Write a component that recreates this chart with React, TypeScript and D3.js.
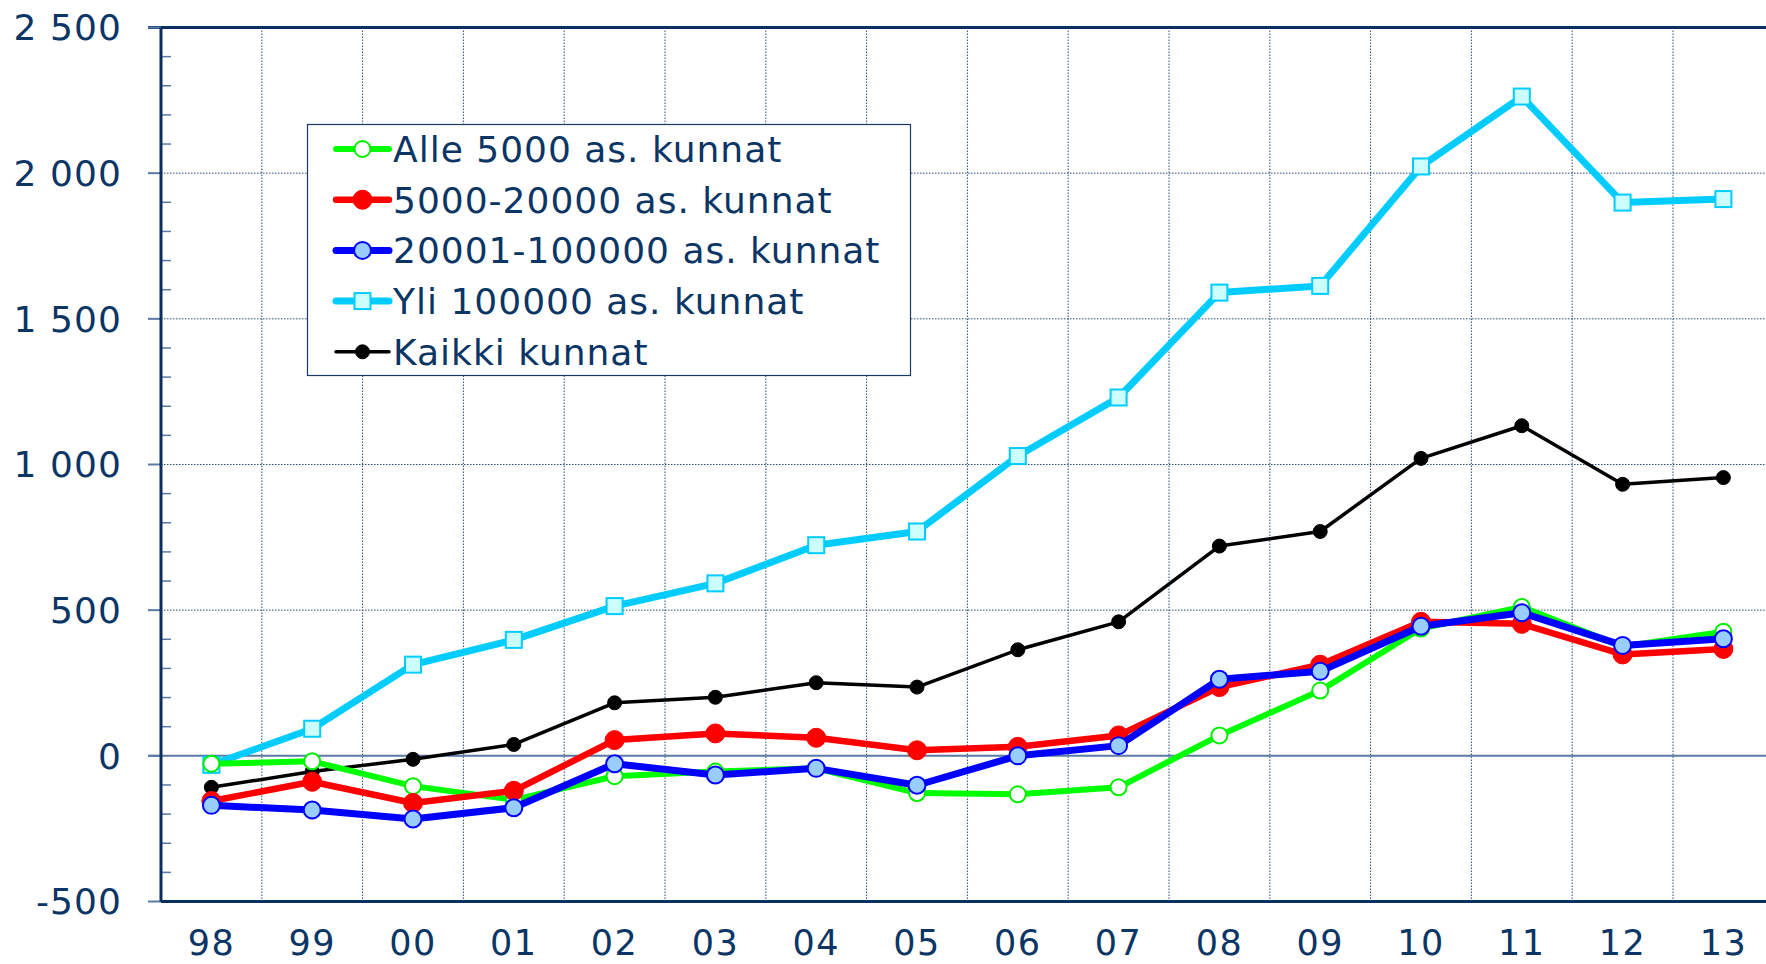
import React from "react";
import * as d3 from "d3";

const years = ["98", "99", "00", "01", "02", "03", "04", "05", "06", "07", "08", "09", "10", "11", "12", "13"];
const alle5000 = [-27, -19, -104, -151, -70, -54, -43, -128, -132, -108, 70, 224, 437, 511, 375, 426];
const s5000_20000 = [-155, -89, -162, -120, 54, 77, 62, 19, 31, 70, 236, 313, 460, 453, 348, 367];
const s20001_100000 = [-170, -186, -217, -178, -27, -66, -43, -101, 0, 35, 263, 290, 445, 491, 379, 402];
const yli100000 = [-31, 93, 313, 398, 514, 592, 723, 770, 1029, 1230, 1590, 1613, 2023, 2263, 1899, 1911];
const kaikki = [-108, -54, -12, 39, 182, 201, 251, 236, 364, 460, 720, 770, 1021, 1133, 932, 955];
const yTicks = [-500, 0, 500, 1000, 1500, 2000, 2500];
const yTickLabels = ["-500", "0", "500", "1 000", "1 500", "2 000", "2 500"];

type Series = {
  name: string;
  values: number[];
  color: string;
  width: number;
  marker: "circle" | "square";
  r: number;
  fill: string;
  stroke: string;
  strokeW: number;
};

const series: Series[] = [
  { name: "Alle 5000 as. kunnat", values: alle5000, color: "#00ff00", width: 6, marker: "circle", r: 8, fill: "#ffffff", stroke: "#00ee00", strokeW: 2 },
  { name: "5000-20000 as. kunnat", values: s5000_20000, color: "#ff0000", width: 6.5, marker: "circle", r: 9.5, fill: "#ff0000", stroke: "#ff0000", strokeW: 1 },
  { name: "20001-100000 as. kunnat", values: s20001_100000, color: "#0000ff", width: 7, marker: "circle", r: 8.5, fill: "#99ccff", stroke: "#0000ff", strokeW: 2 },
  { name: "Yli 100000 as. kunnat", values: yli100000, color: "#00ccff", width: 7, marker: "square", r: 8, fill: "#ccffff", stroke: "#00ccff", strokeW: 2 },
  { name: "Kaikki kunnat", values: kaikki, color: "#000000", width: 3.5, marker: "circle", r: 7, fill: "#000000", stroke: "#000000", strokeW: 1 },
];

const drawOrder = [3, 4, 0, 1, 2];

const W = 1766;
const H = 964;
const left = 161;
const top = 27.5;
const bottom = 901.5;
const band = 100.8;
const right = left + band * years.length;
const textColor = "#0a3564";
const axisColor = "#0a3060";
const font = "'DejaVu Sans', Verdana, sans-serif";

function Marker({ s, x, y }: { s: Series; x: number; y: number }) {
  if (s.marker === "square") {
    return <rect x={x - s.r} y={y - s.r} width={s.r * 2} height={s.r * 2} fill={s.fill} stroke={s.stroke} strokeWidth={s.strokeW} />;
  }
  return <circle cx={x} cy={y} r={s.r} fill={s.fill} stroke={s.stroke} strokeWidth={s.strokeW} />;
}

export default function App() {
  const x = d3.scaleBand<string>().domain(years).range([left, right]).padding(0);
  const y = d3.scaleLinear().domain([-500, 2500]).range([bottom, top]);
  const cx = (d: string) => (x(d) as number) + x.bandwidth() / 2;
  const minorTicks = d3.range(-500, 2501, 100).filter((v) => v % 500 !== 0);

  const legendX = 307.5;
  const legendY = 124.5;
  const legendW = 603;
  const legendH = 251;
  const rowH = 50.7;

  return (
    <svg width={W} height={H} style={{ position: "absolute", left: 0, top: 0, background: "#fff" }} fontFamily={font}>
      <rect x={0} y={0} width={W} height={H} fill="#ffffff" />
      {/* horizontal grid */}
      {yTicks.filter((v) => v !== 0 && v !== -500 && v !== 2500).map((v) => (
        <line key={"hg" + v} x1={left} x2={W} y1={y(v)} y2={y(v)} stroke="#2a4a78" strokeWidth={1} strokeDasharray="1.5,1.5" />
      ))}
      {/* vertical grid */}
      {years.slice(1).map((yr) => (
        <line key={"vg" + yr} x1={x(yr) as number} x2={x(yr) as number} y1={top} y2={bottom} stroke="#2a4a78" strokeWidth={1} strokeDasharray="1.5,1.5" />
      ))}
      {/* zero line */}
      <line x1={148} x2={W} y1={y(0)} y2={y(0)} stroke="#5a7aa6" strokeWidth={2} />
      {/* top border */}
      <line x1={148} x2={W} y1={top} y2={top} stroke={axisColor} strokeWidth={3} />
      {/* minor ticks */}
      {minorTicks.map((v) => (
        <line key={"mt" + v} x1={left} x2={171} y1={y(v)} y2={y(v)} stroke="#5a7aa6" strokeWidth={1.5} />
      ))}
      {/* major ticks */}
      {yTicks.map((v) => (
        <line key={"Mt" + v} x1={148} x2={left} y1={y(v)} y2={y(v)} stroke="#5a7aa6" strokeWidth={2} />
      ))}
      {/* axes */}
      <line x1={left} x2={left} y1={top} y2={bottom} stroke={axisColor} strokeWidth={3} />
      <line x1={left} x2={W} y1={bottom} y2={bottom} stroke={axisColor} strokeWidth={3} />
      {/* y labels */}
      {yTicks.map((v, i) => (
        <text key={"yl" + v} x={122} y={y(v)} dy="0.36em" textAnchor="end" fontSize={36} letterSpacing={1.1} fill={textColor}>
          {yTickLabels[i]}
        </text>
      ))}
      {/* x labels */}
      {years.map((yr) => (
        <text key={"xl" + yr} x={cx(yr)} y={955} textAnchor="middle" fontSize={35} letterSpacing={1.5} fill={textColor}>
          {yr}
        </text>
      ))}
      {/* series */}
      {drawOrder.map((si) => {
        const s = series[si];
        const line = d3
          .line<number>()
          .x((_, i) => cx(years[i]))
          .y((d) => y(d));
        return (
          <g key={s.name}>
            <path d={line(s.values) || ""} fill="none" stroke={s.color} strokeWidth={s.width} strokeLinejoin="round" />
            {s.values.map((v, i) => (
              <Marker key={i} s={s} x={cx(years[i])} y={y(v)} />
            ))}
          </g>
        );
      })}
      {/* legend */}
      <rect x={legendX} y={legendY} width={legendW} height={legendH} fill="#ffffff" stroke="#1a3a6a" strokeWidth={1.2} />
      {series.map((s, i) => {
        const ly = legendY + 24.5 + i * rowH;
        return (
          <g key={"lg" + s.name}>
            <line x1={336} x2={389} y1={ly} y2={ly} stroke={s.color} strokeWidth={s.width} strokeLinecap="round" />
            <Marker s={s} x={362.5} y={ly} />
            <text x={393} y={ly} dy="0.36em" fontSize={36} letterSpacing={1} fill={textColor}>
              {s.name}
            </text>
          </g>
        );
      })}
    </svg>
  );
}
